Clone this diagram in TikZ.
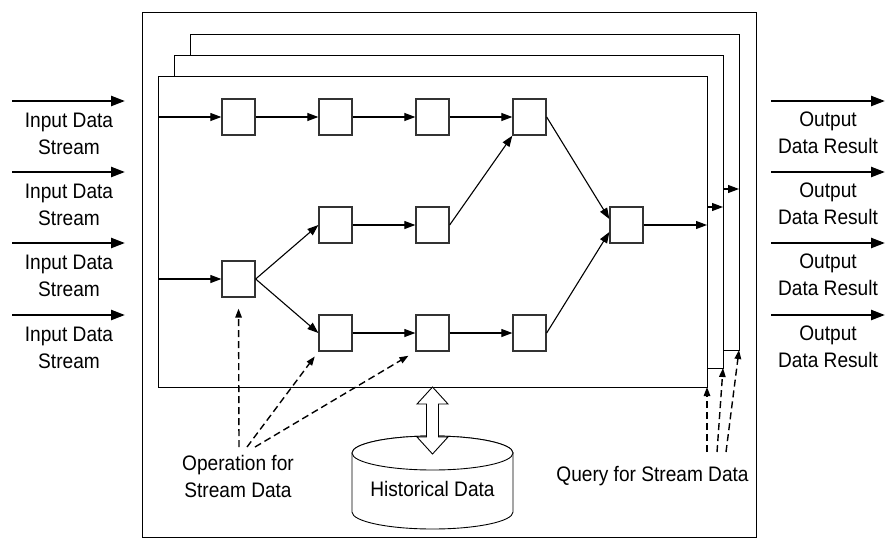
\documentclass[tikz,border=0pt]{standalone}
\usepackage{fontspec}
\setmainfont{Liberation Sans}[FakeStretch=0.91]
\usetikzlibrary{arrows.meta,calc}

\begin{document}
\begin{tikzpicture}[x=1pt,y=-1pt,
  font=\fontsize{21}{27}\selectfont,
  frame/.style={draw=black, line width=0.9pt, fill=white},
  layer/.style={frame, anchor=north west, inner sep=0pt, outer sep=0pt},
  op/.style={draw=black!80, line width=1.3pt, fill=white,
             minimum width=33pt, minimum height=36pt, inner sep=0pt},
  flow/.style={line width=1.1pt, -{Triangle[length=11pt,width=8pt]}},
  io/.style={line width=2.4pt, -{Triangle[length=14pt,width=10pt]}},
  hint/.style={line width=1.4pt, dash pattern=on 7pt off 4pt,
               -{Triangle[length=9pt,width=6.5pt]}},
  lbl/.style={align=center, inner sep=0pt},
]
\useasboundingbox (0,0) rectangle (885,544);

% system boundary
\node[layer, minimum width=614pt, minimum height=525pt] (sys) at (142,12) {};

% stacked query planes, back to front
\node[layer, minimum width=549pt, minimum height=316pt] (back)  at (190,34) {};
\node[layer, minimum width=549pt, minimum height=313pt] (mid)   at (174,55) {};
\node[layer, minimum width=549pt, minimum height=311pt] (front) at (158,76) {};

% operators
\node[op] (a1) at (238.5,117) {};
\node[op] (a2) at (335.5,117) {};
\node[op] (a3) at (432.5,117) {};
\node[op] (a4) at (529.5,117) {};
\node[op] (b2) at (335.5,225) {};
\node[op] (b3) at (432.5,225) {};
\node[op] (c1) at (238.5,279) {};
\node[op] (d2) at (335.5,333) {};
\node[op] (d3) at (432.5,333) {};
\node[op] (d4) at (529.5,333) {};
\node[op] (f)  at (626.5,225) {};

% operator graph
\draw[flow] (front.west |- a1) -- (a1);
\draw[flow] (a1) -- (a2);
\draw[flow] (a2) -- (a3);
\draw[flow] (a3) -- (a4);
\draw[flow] (front.west |- c1) -- (c1);
\draw[flow] (c1.east) -- (b2.west);
\draw[flow] (c1.east) -- (d2.west);
\draw[flow] (b2) -- (b3);
\draw[flow] (b3.east) -- (a4.south west);
\draw[flow] (d2) -- (d3);
\draw[flow] (d3) -- (d4);
\draw[flow] (a4.east) -- ([yshift=6pt]f.west);
\draw[flow] (d4.east) -- ([yshift=-7pt]f.west);
\draw[flow] (f) -- (f -| front.east);
\draw[flow] ($(front.east |- f)+(0,-18)$) -- ($(mid.east |- f)+(0,-18)$);
\draw[flow] ($(mid.east |- f)+(0,-36)$) -- ($(back.east |- f)+(0,-36)$);

% incoming streams
\foreach \y [count=\i] in {101,172,243,315} {
  \coordinate (in\i s) at (12,\y);
  \coordinate (in\i e) at (125,\y);
  \draw[io] (in\i s) -- (in\i e);
  \node[lbl] (inl\i) at (69,{\y+33}) {Input Data\\Stream};
}

% results
\foreach \y [count=\i] in {101,172,243,315} {
  \coordinate (out\i s) at (771,\y);
  \coordinate (out\i e) at (885,\y);
  \draw[io] (out\i s) -- (out\i e);
  \node[lbl] (outl\i) at (828,{\y+32}) {Output\\Data Result};
}

% operation hints
\node[lbl] (oplbl) at (238,476) {Operation for\\Stream Data};
\coordinate (o1) at (239,447);
\coordinate (o2) at (247,447);
\coordinate (o3) at (255,447);
\draw[hint, shorten >=11pt] (o1) -- (c1.south);
\draw[hint, shorten >=6pt] (o2) -- (d2.south west);
\draw[hint, shorten >=8pt] (o3) -- (d3.south west);

% query hints
\node[anchor=base, inner sep=0pt] (qlbl) at (652.5,481) {Query for Stream Data};
\coordinate (q1) at (707,452);
\coordinate (q2) at (717,452);
\coordinate (q3) at (726,452);
\draw[hint] (q1) -- (front.south east);
\draw[hint] (q2) -- (mid.south east);
\draw[hint] (q3) -- (back.south east);

% historical store
\draw[frame] (352,453) -- (352,512)
  arc[start angle=180, end angle=360, x radius=80.5pt, y radius=17pt]
  -- (513,453)
  arc[start angle=0, end angle=180, x radius=80.5pt, y radius=17pt] -- cycle;
\draw[frame] (432.5,453) ellipse[x radius=80.5pt, y radius=17pt];
\node[anchor=base, inner sep=0pt] (hist) at (432.5,496) {Historical Data};

% exchange between planes and store
\draw[line width=0.9pt, fill=white]
  (front.south) -- ++(15.5,17) -- ++(-9.5,0) -- ++(0,33) -- ++(9.5,0)
  -- ++(-15.5,17) -- ++(-15.5,-17) -- ++(9.5,0) -- ++(0,-33) -- ++(-9.5,0) -- cycle;
\end{tikzpicture}
\end{document}
